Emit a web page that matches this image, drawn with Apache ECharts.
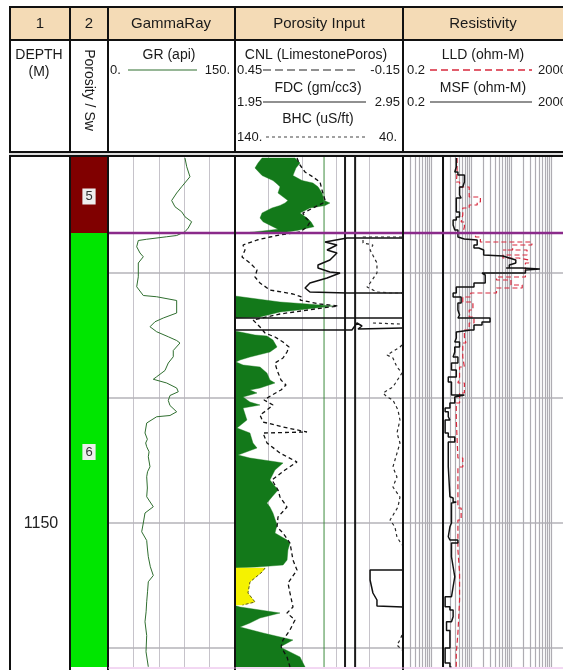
<!DOCTYPE html>
<html>
<head>
<meta charset="utf-8">
<script src="https://cdn.jsdelivr.net/npm/echarts@6/dist/echarts.min.js"></script>
<style>
  html, body { margin: 0; padding: 0; background: #fff; }
  #log { width: 563px; height: 670px; }
</style>
</head>
<body>
<div id="log"></div>
<script>
// ---- depth window (m) and reference depths ----
const depthTop = 1120.64;
const depthBase = 1161.52;
const depthGrid = [1130, 1140, 1150, 1160];
const depthLabels = [1150];

// ---- zonation, track 2 ----
const zoneNames = ['5', '6'];
const zoneTops = [1120.64, 1126.8];
const zoneBases = [1126.8, 1161.52];

// ---- GammaRay track: GR [api, depth] ----
const grCurve = [
  [90.9,1120.8],[93.0,1121.5],[96.8,1122.3],[87.0,1123.1],[81.1,1123.6],[75.2,1124.2],[79.1,1124.7],
  [87.0,1125.1],[90.9,1125.5],[98.8,1125.9],[94.8,1126.4],[90.9,1126.7],[81.1,1127.0],[69.3,1127.1],
  [45.7,1127.3],[35.8,1127.4],[33.9,1127.9],[37.8,1128.4],[41.7,1128.7],[35.8,1129.2],[35.8,1130.3],
  [33.9,1131.1],[41.7,1131.8],[57.5,1131.9],[81.1,1132.2],[81.1,1133.2],[65.3,1133.6],[55.5,1133.9],
  [49.6,1134.3],[57.5,1134.7],[71.2,1135.1],[81.1,1135.4],[85.0,1135.6],[77.1,1136.2],[77.1,1136.7],
  [71.2,1137.2],[67.3,1137.8],[57.5,1138.3],[53.5,1138.5],[69.3,1138.8],[81.1,1139.2],[83.0,1139.5],
  [73.2,1139.8],[71.2,1140.2],[73.2,1140.6],[81.1,1141.1],[73.2,1141.4],[57.5,1141.5],[45.7,1142.0],
  [43.7,1142.8],[46.5,1143.3],[44.5,1143.6],[45.7,1143.9],[48.5,1144.3],[47.6,1144.7],[49.6,1145.5],
  [46.7,1145.9],[45.7,1146.3],[46.5,1147.2],[45.7,1147.9],[53.5,1148.7],[43.7,1149.2],[41.7,1150.0],
  [39.8,1150.7],[45.7,1151.4],[46.5,1152.0],[47.6,1152.7],[50.0,1153.5],[53.5,1154.2],[47.6,1154.7],
  [46.7,1155.5],[45.7,1156.3],[45.0,1157.1],[43.7,1157.9],[45.7,1159.0],[44.9,1160.3],[47.6,1161.5]
];

// ---- Porosity Input track ----
// density/neutron crossover shading, in FDC units [gm/cc3, depth]
const shadeUpperLeft = [
  [2.111,1120.8],[2.087,1121.2],[2.069,1121.6],[2.111,1122.2],[2.176,1122.6],[2.194,1122.8],[2.218,1123.1],
  [2.206,1123.6],[2.265,1124.2],[2.248,1124.4],[2.218,1124.6],[2.170,1124.8],[2.111,1125.2],[2.099,1125.6],
  [2.117,1125.9],[2.176,1126.3],[2.206,1126.5],[2.039,1126.75]
];
const shadeUpperRight = [
  [2.307,1120.8],[2.337,1121.2],[2.313,1121.6],[2.295,1122.2],[2.349,1122.6],[2.414,1122.8],[2.444,1123.1],
  [2.468,1123.6],[2.480,1124.2],[2.515,1124.4],[2.486,1124.6],[2.396,1124.8],[2.337,1125.2],[2.379,1125.6],
  [2.402,1125.9],[2.420,1126.3],[2.319,1126.6],[2.218,1126.8]
];
const shadeLower = [
  [1.950,1131.84],[2.039,1132.0],[2.218,1132.32],[2.379,1132.48],[2.533,1132.64],[2.379,1132.88],[2.218,1133.12],
  [2.099,1133.52],[1.950,1133.6],[1.950,1134.64],[2.010,1134.8],[2.069,1134.96],[2.140,1135.04],[2.176,1135.36],
  [2.200,1135.92],[2.158,1136.32],[2.039,1136.72],[1.980,1136.96],[1.956,1137.12],[1.998,1137.36],[2.099,1137.52],
  [2.140,1138.0],[2.158,1138.56],[2.188,1138.8],[2.099,1139.2],[2.039,1139.36],[2.081,1139.6],[1.998,1139.92],
  [2.039,1140.32],[2.099,1140.56],[1.998,1140.8],[2.021,1141.76],[1.962,1142.4],[2.039,1142.8],[2.057,1143.6],
  [2.081,1144.0],[1.968,1144.56],[2.039,1144.8],[2.200,1145.12],[2.236,1145.2],[2.188,1145.76],[2.158,1146.56],
  [2.206,1147.36],[2.170,1147.92],[2.140,1148.4],[2.158,1148.72],[2.176,1149.2],[2.200,1150.16],[2.188,1150.8],
  [2.260,1151.36],[2.277,1151.6],[2.265,1152.16],[2.260,1152.96],[2.236,1153.36],[2.081,1153.52],[1.950,1153.6],
  [1.950,1156.6],[1.980,1156.72],[2.218,1157.2],[2.099,1157.6],[2.039,1158.0],[1.980,1158.32],[2.117,1158.8],
  [2.295,1159.36],[2.218,1159.92],[2.337,1160.72],[2.355,1161.2],[2.367,1161.52]
];
const shadeYellow = [
  [2.129,1153.6],[2.111,1153.92],[2.039,1154.72],[2.027,1155.6],[2.069,1156.32],[1.995,1156.56]
];
// CNL [v/v, depth]
const cnlCurve = [
  [0.2286,1120.8],[0.2179,1121.36],[0.2000,1121.92],[0.1714,1122.32],[0.1464,1122.72],[0.1393,1123.36],
  [0.1286,1124.16],[0.1357,1124.4],[0.1714,1124.8],[0.2071,1125.2],[0.2000,1125.52],[0.1821,1125.92],
  [0.1929,1126.32],[0.2179,1126.72],[0.2893,1126.96],[0.3250,1127.12],[0.3714,1127.36],[0.4214,1127.76],
  [0.4143,1128.16],[0.4250,1128.72],[0.3964,1129.2],[0.3714,1129.76],[0.3786,1130.32],[0.3607,1130.8],
  [0.3250,1131.36],[0.2429,1131.68],[0.2107,1131.92],[0.2179,1132.16],[0.1464,1132.48],[0.0821,1132.64],
  [0.1643,1132.88],[0.2893,1133.28],[0.3857,1133.76],[0.3607,1134.32],[0.3429,1134.8],[0.3071,1135.12],
  [0.2786,1135.52],[0.2571,1135.92],[0.2643,1136.32],[0.2786,1136.8],[0.3071,1137.2],[0.3000,1137.76],
  [0.2857,1138.56],[0.2679,1138.96],[0.2857,1139.36],[0.3179,1139.76],[0.3464,1140.16],[0.3143,1140.56],
  [0.3357,1140.96],[0.3607,1141.36],[0.3500,1141.92],[0.2786,1142.32],[0.1929,1142.72],[0.3500,1142.8],
  [0.3357,1143.6],[0.2893,1144.4],[0.2286,1145.12],[0.2714,1145.76],[0.3179,1146.56],[0.2964,1147.36],
  [0.2893,1147.92],[0.2643,1148.72],[0.2964,1149.52],[0.3000,1150.32],[0.2786,1150.8],[0.2536,1151.6],
  [0.2429,1152.96],[0.2286,1153.76],[0.2607,1154.8],[0.2536,1155.6],[0.2429,1156.72],[0.2643,1157.2],
  [0.2357,1157.76],[0.2536,1158.56],[0.2786,1159.36],[0.2857,1159.92],[0.2643,1160.72],[0.2536,1161.52]
];
// FDC [gm/cc3, depth], wrapped pieces that fall inside the track
const fdcPieces = [
  [[2.95,1127.2],[2.617,1127.2],[2.486,1127.52],[2.557,1127.76],[2.498,1128.16],[2.557,1128.4],[2.515,1128.96],
   [2.444,1129.36],[2.444,1129.6],[2.515,1129.92],[2.575,1130.0],[2.498,1130.4],[2.396,1130.8],[2.367,1131.2],
   [2.396,1131.52],[2.617,1131.6],[2.95,1131.6]],
  [[2.95,1133.6],[1.95,1133.6]],
  [[1.95,1134.56],[2.646,1134.56],[2.676,1134.0],[2.706,1134.24],[2.682,1134.48],[2.95,1134.4]],
  [[2.95,1153.76],[2.754,1153.76],[2.754,1154.56],[2.771,1155.6],[2.795,1156.16],[2.795,1156.64],[2.95,1156.72]]
];
// BHC [uS/ft, depth], pieces that fall inside the track
const bhcPieces = [
  [[40.6,1127.12],[63.8,1127.12],[63.8,1127.6],[57.9,1127.76],[59.6,1128.16],[55.5,1129.2],[55.5,1130.0],
   [59.6,1130.8],[61.4,1131.12],[55.5,1131.52],[47.7,1131.6],[40.6,1131.6]],
  [[57.9,1134.0],[41.8,1134.08]],
  [[40.6,1135.76],[41.8,1135.92],[49.5,1136.56],[46.0,1136.8],[43.6,1137.52],[40.6,1138.0],[46.0,1139.12],
   [51.9,1139.6],[49.5,1139.92],[46.0,1140.16],[43.0,1140.96],[41.8,1141.76],[43.6,1142.8],[41.8,1143.6],
   [46.0,1145.52],[43.6,1146.32],[46.0,1147.12],[41.8,1147.92],[43.0,1148.72],[47.7,1149.76],[44.8,1150.32],
   [43.6,1151.12],[40.6,1151.76]],
  [[40.6,1158.96],[41.8,1159.36],[43.6,1159.76],[40.6,1160.16]]
];
// reference lines in the porosity track [gm/cc3]
const porosityCutoffGreen = [2.48];
const porosityCutoffBlack = [2.605, 2.665];

// ---- Resistivity track [ohm-m, depth] ----
const msfCurve = [
  [4.3,1120.8],[3.94,1121.52],[4.72,1121.92],[6.85,1122.16],[6.24,1122.72],[5.19,1123.12],[5.68,1123.76],
  [4.3,1124.0],[4.3,1124.8],[5.19,1125.12],[4.3,1125.52],[3.58,1125.76],[3.94,1126.16],[4.72,1126.56],
  [4.72,1127.12],[6.85,1127.28],[14.3,1127.36],[11.9,1127.76],[15.7,1128.0],[20.8,1128.16],[22.7,1128.56],
  [63,1128.64],[91,1128.8],[132,1128.96],[145,1129.2],[91,1129.36],[75.7,1129.6],[191,1129.6],[528,1129.68],
  [230,1129.76],[18.9,1130.0],[22.7,1130.16],[22.7,1130.56],[11.9,1130.8],[11.9,1130.96],[4.3,1131.12],
  [3.58,1131.6],[5.68,1131.92],[4.72,1132.4],[5.19,1132.96],[4.72,1133.36],[30,1133.6],[18.9,1133.92],
  [11.9,1134.16],[9.89,1134.56],[4.3,1134.72],[3.94,1135.2],[5.19,1135.52],[3.94,1135.92],[3.58,1136.32],
  [4.72,1136.72],[3.26,1137.2],[4.3,1137.76],[2.71,1138.32],[3.26,1138.72],[6.85,1139.76],[3.94,1139.92],
  [2.98,1140.4],[2.26,1140.8],[2.71,1141.1],[2.98,1141.5],[2.26,1141.76],[2.71,1142.8],[3.94,1143.12],
  [2.71,1143.52],[2.98,1145.5],[2.98,1147.9],[3.58,1148.0],[4.3,1148.32],[3.26,1148.4],[2.98,1150.0],
  [2.71,1150.3],[2.98,1151.1],[4.72,1151.36],[3.26,1151.6],[3.58,1152.7],[3.94,1153.5],[3.58,1154.3],
  [3.26,1155.1],[2.26,1155.9],[2.98,1156.7],[3.58,1156.96],[3.26,1157.5],[2.45,1157.9],[2.98,1158.6],
  [2.98,1159.4],[2.26,1160.0],[2.26,1160.7],[2.98,1161.2],[3.26,1161.52]
];
const lldCurve = [
  [4.5,1120.8],[4.3,1122.0],[5.19,1122.72],[9.04,1123.12],[17.2,1123.92],[14.3,1124.32],[9.04,1124.56],
  [6.24,1124.8],[5.68,1125.36],[6.85,1125.92],[6.24,1126.32],[13,1126.8],[17.2,1127.12],[333,1127.52],
  [110,1127.76],[63,1128.16],[252,1128.16],[63,1128.56],[158,1128.8],[276,1128.96],[230,1129.2],
  [43.5,1130.32],[100,1130.56],[191,1130.96],[43.5,1131.2],[9.89,1131.6],[6.24,1131.92],[11.2,1132.32],
  [9.04,1132.96],[11.9,1133.52],[9.04,1134.0],[6.85,1134.56],[7.48,1135.12],[6.24,1135.6],[6.85,1136.72],
  [5.19,1137.52],[4.72,1138.32],[6.85,1138.8],[5.19,1139.6],[4.3,1140.4],[4.72,1141.76],[6.24,1144.8],
  [4.72,1145.52],[4.72,1148.16],[5.68,1148.8],[4.72,1149.76],[5.19,1152.16],[5.19,1154.0],[4.72,1156.16],
  [4.3,1158.8],[4.3,1160.4],[3.94,1161.52]
];
const resistivityCutoff = [2];

// ---------------------------------------------------------------
const FONT = '"Liberation Sans", Arial, sans-serif';
const PLOT_TOP = 156, PLOT_H = 511;
// track rectangles: [left, width]
const trackRects = [
  [10, 60],    // 0 depth
  [70, 38],    // 1 zone
  [108, 127],  // 2 GR
  [235, 168],  // 3 porosity (FDC scale)
  [235, 168],  // 4 porosity (CNL scale)
  [235, 168],  // 5 porosity (BHC scale)
  [403, 166],  // 6 resistivity
  [108, 461]   // 7 overlay for depth lines across curve tracks
];
const gridColor = '#c6c3ca';

const hiddenBits = { axisLine: { show: false }, axisTick: { show: false }, axisLabel: { show: false } };
const xAxes = [
  { type: 'value', min: 0, max: 1, splitLine: { show: false } },
  { type: 'value', min: 0, max: 1, splitLine: { show: false } },
  { type: 'value', min: 0, max: 150, interval: 30, splitLine: { show: true, lineStyle: { color: gridColor, width: 1 } } },
  { type: 'value', min: 1.95, max: 2.95, splitLine: { show: false } },
  { type: 'value', min: -0.15, max: 0.45, inverse: true, splitLine: { show: false } },
  { type: 'value', min: 40, max: 140, interval: 20, inverse: true, splitLine: { show: true, lineStyle: { color: gridColor, width: 1 } } },
  { type: 'log', logBase: 10, min: 0.2, max: 2000, splitLine: { show: false } },
  { type: 'value', min: 0, max: 1, splitLine: { show: false } }
].map((a, i) => Object.assign({ gridIndex: i, show: true }, hiddenBits, a));

const yAxes = trackRects.map((r, i) => ({
  gridIndex: i, type: 'value', inverse: true, min: depthTop, max: depthBase, show: false
}));
const grids = trackRects.map(r => ({ left: r[0], top: PLOT_TOP, width: r[1], height: PLOT_H }));

// square-wave path through the sampled readings (tool logs are drawn as blocky steps)
function stepped(pts) {
  const out = [pts[0]];
  for (let i = 1; i < pts.length; i++) {
    out.push([pts[i - 1][0], pts[i][1]]);
    out.push(pts[i]);
  }
  return out;
}
function curve(ax, data, color, width, dash, z) {
  return {
    type: 'line', xAxisIndex: ax, yAxisIndex: ax, data, symbol: 'none', showSymbol: false,
    clip: true, silent: true, z: z || 5, lineStyle: { color, width, type: dash || 'solid' }
  };
}
function polygons(ax, polys, fill, z) {
  return {
    type: 'custom', xAxisIndex: ax, yAxisIndex: ax, silent: true, z: z || 3, clip: true,
    data: polys.map(p => p[0]),
    renderItem(params, api) {
      const pts = polys[params.dataIndex].map(pt => api.coord(pt));
      return { type: 'polygon', shape: { points: pts }, style: { fill, stroke: fill, lineWidth: 0.4 } };
    }
  };
}
function verticalRefs(ax, values, color, width, z) {
  return values.map(v => curve(ax, [[v, depthTop], [v, depthBase]], color, width, 'solid', z));
}

// closed outlines for the shaded areas (left edge of the track = 1.95)
const upperShape = shadeUpperLeft.concat(shadeUpperRight.slice().reverse());
const lowerShape = [[1.95, shadeLower[0][1]]].concat(shadeLower, [[1.95, depthBase]]);
const yellowShape = [[1.95, shadeYellow[0][1]]].concat(shadeYellow, [[1.95, shadeYellow[shadeYellow.length - 1][1]]]);

// logarithmic grid for resistivity track
const resGridValues = [];
for (let e = -1; e <= 3; e++) {
  for (let k = 1; k <= 9; k++) {
    const v = +(k * Math.pow(10, e)).toPrecision(3);
    if (v > 0.2 && v < 2000) resGridValues.push(v);
  }
}

const series = [];

// depth labels
series.push({
  type: 'custom', xAxisIndex: 0, yAxisIndex: 0, silent: true, z: 6,
  data: depthLabels.map(d => [0.5, d]),
  renderItem(params, api) {
    const p = api.coord([api.value(0), api.value(1)]);
    return { type: 'text', x: p[0] + 1, y: p[1] + 1,
      style: { text: String(api.value(1)), font: '16px ' + FONT, fill: '#222', align: 'center', verticalAlign: 'middle' } };
  }
});

// zone blocks
series.push({
  type: 'custom', xAxisIndex: 1, yAxisIndex: 1, silent: true, z: 2,
  data: zoneTops.map((t, i) => [0, t, zoneBases[i]]),
  renderItem(params, api) {
    const i = params.dataIndex;
    const a = api.coord([0, api.value(1)]);
    const b = api.coord([1, api.value(2)]);
    const colors = ['#800000', '#00e600'];
    return { type: 'group', children: [
      { type: 'rect', shape: { x: a[0], y: a[1], width: b[0] - a[0], height: b[1] - a[1] }, style: { fill: colors[i % 2] } },
      { type: 'text', x: (a[0] + b[0]) / 2, y: i === 0 ? (a[1] + b[1]) / 2 + 2 : a[1] + 219,
        style: { text: zoneNames[i], font: '13px ' + FONT, fill: '#333', align: 'center', verticalAlign: 'middle',
          backgroundColor: '#eeeeee', padding: [2, 3, 1, 3] } }
    ] };
  }
});

// horizontal depth grid and zone boundary across the curve tracks
series.push({
  type: 'custom', xAxisIndex: 7, yAxisIndex: 7, silent: true, z: 1,
  data: depthGrid.map(d => [0, d]),
  renderItem(params, api) {
    const y = api.coord([0, api.value(1)])[1];
    const cs = params.coordSys;
    return { type: 'line', shape: { x1: cs.x, y1: y, x2: cs.x + cs.width, y2: y }, style: { stroke: '#b5b3b8', lineWidth: 1.6 } };
  }
});
series.push({
  type: 'custom', xAxisIndex: 7, yAxisIndex: 7, silent: true, z: 9,
  data: zoneBases.slice(0, -1).map(d => [0, d]),
  renderItem(params, api) {
    const y = api.coord([0, api.value(1)])[1];
    const cs = params.coordSys;
    return { type: 'line', shape: { x1: cs.x, y1: y, x2: cs.x + cs.width, y2: y }, style: { stroke: '#8a2a8a', lineWidth: 2.4 } };
  }
});

// resistivity log grid
series.push({
  type: 'custom', xAxisIndex: 6, yAxisIndex: 6, silent: true, z: 1,
  data: resGridValues.map(v => [v, depthTop]),
  renderItem(params, api) {
    const x = Math.round(api.coord([api.value(0), depthTop])[0]) + 0.5;
    const cs = params.coordSys;
    return { type: 'line', shape: { x1: x, y1: cs.y, x2: x, y2: cs.y + cs.height }, style: { stroke: '#aeacb2', lineWidth: 1.2 } };
  }
});

// GR
series.push(curve(2, grCurve, '#2f6e2f', 1, 'solid', 5));

// porosity: shading, then curves
series.push(polygons(3, [upperShape, lowerShape], '#13791a', 3));
series.push(polygons(3, [yellowShape], '#f5f200', 3));
series.push(curve(3, shadeYellow, '#5a5a20', 1, [3, 2], 4));
series.push(...verticalRefs(3, porosityCutoffGreen, '#3c8c3c', 1, 4));
series.push(...verticalRefs(3, porosityCutoffBlack, '#1a1a1a', 2, 4));
fdcPieces.forEach(p => series.push(curve(3, p, '#111', 1.5, 'solid', 6)));
series.push(curve(4, cnlCurve, '#111', 1.3, [4, 3], 6));
bhcPieces.forEach(p => series.push(curve(5, p, '#2a2a2a', 1.2, [3, 3], 6)));

// resistivity
series.push(...verticalRefs(6, resistivityCutoff, '#111', 2, 4));
series.push(curve(6, stepped(lldCurve), '#d8283c', 1.2, [5, 3], 5));
series.push(curve(6, stepped(msfCurve), '#111', 1.5, 'solid', 6));

// ---- header and track frames ----
const G = [];
const gRect = (x, y, w, h, fill) => G.push({ type: 'rect', shape: { x, y, width: w, height: h }, style: { fill }, z: 50, silent: true });
const gLine = (x1, y1, x2, y2, stroke, lw, dash) => G.push({ type: 'line', shape: { x1, y1, x2, y2 }, style: { stroke, lineWidth: lw, lineDash: dash || null }, z: 60, silent: true });
const gText = (x, y, t, size, align, extra) => G.push(Object.assign({
  type: 'text', x, y, z: 70, silent: true,
  style: { text: t, font: size + 'px ' + FONT, fill: '#1a1a1a', align, textAlign: align, verticalAlign: 'middle', textVerticalAlign: 'middle' }
}, extra || {}));

const colX = [10, 70, 108, 235, 403, 569];
// header row 1
gRect(10, 8, 559, 32, '#f4dbb6');
gText(40, 24, '1', 15, 'center');
gText(89, 24, '2', 15, 'center');
gText(171, 24, 'GammaRay', 15, 'center');
gText(319, 24, 'Porosity Input', 15, 'center');
gText(483, 24, 'Resistivity', 15, 'center');
// header row 2
gText(39, 55, 'DEPTH', 14, 'center');
gText(39, 72, '(M)', 14, 'center');
gText(89, 90, 'Porosity / Sw', 14, 'center', { rotation: -Math.PI / 2 });
gText(169, 55, 'GR (api)', 14, 'center');
gText(110, 70, '0.', 13, 'left');
gLine(128, 70, 197, 70, '#2f6e2f', 1);
gText(230, 70, '150.', 13, 'right');
gText(316, 55, 'CNL (LimestonePoros)', 14, 'center');
gText(237, 70, '0.45', 13, 'left');
gLine(263, 70, 357, 70, '#222', 1.2, [8, 4]);
gText(400, 70, '-0.15', 13, 'right');
gText(318, 88, 'FDC (gm/cc3)', 14, 'center');
gText(237, 102, '1.95', 13, 'left');
gLine(263, 102, 366, 102, '#222', 1.2);
gText(400, 102, '2.95', 13, 'right');
gText(318, 119, 'BHC (uS/ft)', 14, 'center');
gText(237, 137, '140.', 13, 'left');
gLine(266, 137, 368, 137, '#444', 1.2, [3, 3]);
gText(397, 137, '40.', 13, 'right');
gText(483, 55, 'LLD (ohm-M)', 14, 'center');
gText(407, 70, '0.2', 13, 'left');
gLine(430, 70, 532, 70, '#d8283c', 1.4, [7, 4]);
gText(567, 70, '2000', 13, 'right');
gText(483, 88, 'MSF (ohm-M)', 14, 'center');
gText(407, 102, '0.2', 13, 'left');
gLine(430, 102, 532, 102, '#222', 1.2);
gText(567, 102, '2000', 13, 'right');
// header frame
gLine(9, 7, 569, 7, '#111', 2);
gLine(9, 40, 569, 40, '#111', 2);
gLine(9, 152, 569, 152, '#111', 2);
gLine(9, 154, 569, 154, '#bbb', 1);
colX.forEach(x => gLine(x, 7, x, 152, '#111', 2));
// plot frame
gLine(9, 156, 569, 156, '#111', 2);
colX.forEach(x => gLine(x, 156, x, 670, '#111', 2));
gLine(108, 668, 569, 668, '#e6b0e6', 1);

const chart = echarts.init(document.getElementById('log'), null, { renderer: 'canvas' });
chart.setOption({
  animation: false,
  backgroundColor: '#fff',
  grid: grids,
  xAxis: xAxes,
  yAxis: yAxes,
  series,
  graphic: { elements: G }
});
</script>
</body>
</html>
